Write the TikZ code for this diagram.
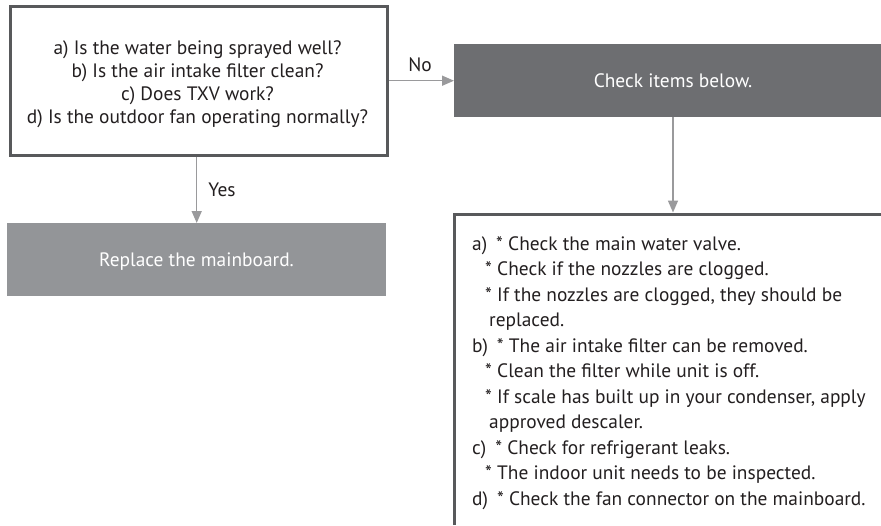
\documentclass[tikz,border=0pt]{standalone}
\usepackage{fontspec}
\setmainfont{PT Sans}
\usetikzlibrary{arrows.meta}
\definecolor{bordc}{HTML}{58595B}
\definecolor{arrc}{HTML}{9A9A9C}
\definecolor{darkfill}{HTML}{6D6E71}
\definecolor{lightfill}{HTML}{939598}
\definecolor{txt}{HTML}{231F20}
\newcommand{\dfont}{\fontsize{19.4}{23}\selectfont}
\tikzset{
  qbox/.style={draw=bordc, line width=3pt, fill=white},
  conn/.style={draw=arrc, line width=1.5pt, -{Triangle[length=12pt,width=10pt]}},
  lbl/.style={text=txt, font=\dfont, inner sep=0pt, anchor=base},
  wlbl/.style={text=white, font=\dfont, inner sep=0pt, anchor=base},
  item/.style={text=txt, font=\dfont, inner sep=0pt, anchor=base west},
}
\begin{document}
\begin{tikzpicture}[x=1pt,y=-1pt]
\useasboundingbox (0,0) rectangle (881,525);
\fill[white] (0,0) rectangle (881,525);
% question box
\node[qbox, minimum width=377pt, minimum height=149pt, anchor=north west] (q) at (9,5) {};
\node[lbl] (q1) at (197.5,54) {a) Is the water being sprayed well?};
\node[lbl] (q2) at (197.5,77) {b) Is the air intake filter clean?};
\node[lbl] (q3) at (197.5,100) {c) Does TXV work?};
\node[lbl] (q4) at (197.5,123) {d) Is the outdoor fan operating normally?};
% check box
\fill[darkfill] (454,44) rectangle (881,117);
\node[inner sep=0pt, minimum width=427pt, minimum height=73pt, anchor=north west] (c) at (454,44) {};
\node[wlbl] (ct) at (673,87) {Check items below.};
% replace box
\node[fill=lightfill, minimum width=379pt, minimum height=73pt, anchor=north west, inner sep=0pt] (r) at (7,223) {};
\node[wlbl] (rt) at (196.5,266) {Replace the mainboard.};
% items box (only left and top edges visible)
\coordinate (bl) at (454,525);
\coordinate (tl) at (454,214);
\coordinate (tr) at (881,214);
\draw[bordc, line width=3pt] (bl) -- (tl) -- (tr);
\coordinate (itop) at (673,212.5);
% connectors
\coordinate (qn) at (q.east |- c.west);
\draw[conn] (qn) -- (c.west);
\node[lbl] (no) at (420,71) {No};
\draw[conn] (q.south -| r.north) -- (r.north);
\node[lbl] (yes) at (222,196) {Yes};
\draw[conn] (c.south -| itop) -- (itop);
% items
\node[item] (l1) at (472,250) {a)\hspace{9pt}* Check the main water valve.};
\node[item] (l2) at (485,275.5) {* Check if the nozzles are clogged.};
\node[item] (l3) at (485,301) {* If the nozzles are clogged, they should be};
\node[item] (l4) at (489,326.5) {replaced.};
\node[item] (l5) at (472,352) {b)\hspace{9pt}* The air intake filter can be removed.};
\node[item] (l6) at (485,377.5) {* Clean the filter while unit is off.};
\node[item] (l7) at (485,403) {* If scale has built up in your condenser, apply};
\node[item] (l8) at (489,428.5) {approved descaler.};
\node[item] (l9) at (472,454) {c)\hspace{9pt}* Check for refrigerant leaks.};
\node[item] (l10) at (485,479.5) {* The indoor unit needs to be inspected.};
\node[item] (l11) at (472,505) {d)\hspace{9pt}* Check the fan connector on the mainboard.};
\end{tikzpicture}
\end{document}
